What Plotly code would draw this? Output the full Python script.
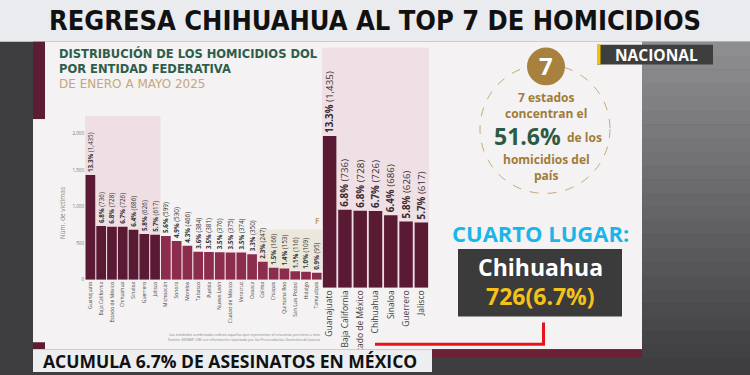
import plotly.graph_objects as go

W, H = 750, 375

# ---------------- data ----------------
states = ["Guanajuato", "Baja California", "Estado de México", "Chihuahua", "Sinaloa",
          "Guerrero", "Jalisco", "Michoacán", "Sonora", "Morelos", "Tabasco", "Puebla",
          "Nuevo León", "Ciudad de México", "Veracruz", "Oaxaca", "Colima", "Chiapas",
          "Quintana Roo", "San Luis Potosí", "Hidalgo", "Tamaulipas"]
victims = [1435, 736, 728, 726, 686, 626, 617, 599, 530, 466, 384, 381, 376, 375, 374,
           350, 247, 166, 153, 116, 109, 95]
pcts = [13.3, 6.8, 6.8, 6.7, 6.4, 5.8, 5.7, 5.6, 4.9, 4.3, 3.6, 3.5, 3.5, 3.5, 3.5,
        3.3, 2.3, 1.5, 1.4, 1.1, 1.0, 0.9]
top_n = 7
yticks = [0, 500, 1000, 1500, 2000]
ytick_labels = ["0", "500", "1,000", "1,500", "2,000"]

top_states = states[:top_n]
top_victims = victims[:top_n]
top_pcts = pcts[:top_n]

DARK = "#5a1a34"
LIGHT = "#8d2d4e"
FONT = "Open Sans"


def X(p):
    return p / W


def Y(p):
    return 1 - p / H


def rect(x0, y0, x1, y1, color, layer="below"):
    return dict(type="rect", xref="paper", yref="paper", x0=X(x0), x1=X(x1),
                y0=Y(y1), y1=Y(y0), fillcolor=color, line_width=0, layer=layer)


def txt(x, y, s, size, color, family=FONT, xanchor="center", yanchor="middle", angle=0, align="center"):
    return dict(x=X(x), y=Y(y), xref="paper", yref="paper", text=s, showarrow=False,
                xanchor=xanchor, yanchor=yanchor, textangle=angle, align=align,
                font=dict(size=size, color=color, family=family))


def label(p, v):
    return f"<b>{p:.1f}%</b> ({v:,})"


fig = go.Figure()

# main chart
fig.add_trace(go.Bar(
    x=states, y=victims, xaxis="x", yaxis="y",
    marker=dict(color=[DARK if i < top_n else LIGHT for i in range(len(states))], line_width=0),
    width=0.9,
    text=[label(p, v) for p, v in zip(pcts, victims)],
    textposition="outside", textangle=-90, constraintext="none", cliponaxis=False,
    textfont=dict(size=6.3, color="#333333", family=FONT),
    hoverinfo="skip", showlegend=False))

# zoomed chart
fig.add_trace(go.Bar(
    x=top_states, y=top_victims, xaxis="x2", yaxis="y2",
    marker=dict(color=DARK, line_width=0), width=0.88,
    text=[label(p, v) for p, v in zip(top_pcts, top_victims)],
    textposition="outside", textangle=-90, constraintext="none", cliponaxis=False,
    textfont=dict(size=9.8, color="#3a2a2e", family=FONT),
    hoverinfo="skip", showlegend=False))

shapes = []
# title band
shapes.append(rect(0, 0, 750, 42, "#e9ebee"))
# right map-like gradient background
top_c = (142, 142, 144)
bot_c = (62, 62, 65)
nb = 24
for i in range(nb):
    t = i / (nb - 1)
    c = tuple(int(top_c[k] + (bot_c[k] - top_c[k]) * t) for k in range(3))
    y0 = 42 + (375 - 42) * i / nb
    y1 = 42 + (375 - 42) * (i + 1) / nb + 0.5
    shapes.append(rect(642, y0, 750, y1, "rgb(%d,%d,%d)" % c))
# white panel
shapes.append(rect(33, 42, 642, 352, "#f4f2f2"))
shapes.append(rect(33, 42, 45, 120, "#5c1c33"))
shapes.append(rect(33, 345, 45, 352, "#5c1c33"))
# pink highlight main
shapes.append(dict(type="rect", xref="x", yref="y", x0=-0.5, x1=top_n - 0.5, y0=0, y1=2250,
                   fillcolor="#efdfe4", line_width=0, layer="below"))
# beige glare area
shapes.append(dict(type="rect", xref="x", yref="y", x0=15.4, x1=21.55, y0=130, y1=690,
                   fillcolor="#ebe7dc", line_width=0, layer="below"))
# pink highlight zoom chart
shapes.append(dict(type="rect", xref="x2", yref="y2", x0=-0.5, x1=top_n - 0.5, y0=0, y1=2270,
                   fillcolor="#eee0e5", line_width=0, layer="below"))
# dashed circle + gold disk
shapes.append(dict(type="circle", xref="paper", yref="paper", x0=X(480), x1=X(610),
                   y0=Y(195), y1=Y(65), line=dict(color="#c9a978", width=1, dash="dash"),
                   fillcolor="rgba(0,0,0,0)", layer="below"))
shapes.append(dict(type="circle", xref="paper", yref="paper", x0=X(527), x1=X(565),
                   y0=Y(86), y1=Y(48), line_width=0, fillcolor="#a8813f", layer="below"))
# NACIONAL tag
shapes.append(rect(597, 45, 713, 65, "#3e3e3e"))
shapes.append(rect(597, 45, 600.5, 65, "#f2c200"))
# Chihuahua box
shapes.append(rect(458, 251, 622, 319, "#3b3b3b"))
# red connector
shapes.append(dict(type="path", xref="paper", yref="paper", layer="above",
                   path="M %f,%f L %f,%f L %f,%f" % (X(375), Y(347), X(543.5), Y(347), X(543.5), Y(325)),
                   line=dict(color="#e8141c", width=3)))
# bottom banner
shapes.append(rect(33, 352, 432, 375, "#eceef0", layer="above"))
shapes.append(rect(432, 352, 642, 360, "#6b2035", layer="above"))

ann = []
ann.append(txt(375, 21, "<b>REGRESA CHIHUAHUA AL TOP 7 DE HOMICIDIOS</b>", 27, "#111111",
               family="Liberation Sans Narrow, DejaVu Sans Condensed, sans-serif"))
ann.append(txt(57, 69,
               "<b><span style='font-size:11.5px'>DISTRIBUCIÓN DE LOS HOMICIDIOS DOL</span></b><br>"
               "<b><span style='font-size:11.5px'>POR ENTIDAD FEDERATIVA</span></b><br>"
               "<span style='font-size:12px;color:#c4a77d'>DE ENERO A MAYO 2025</span>",
               11.5, "#2e5d4b", family="DejaVu Sans", xanchor="left", align="left"))
ann.append(txt(62, 215, "Núm. de víctimas", 6.5, "#8a8a8a", angle=-90))
ann.append(txt(322, 339.5,
               "Las entidades sombreadas indican aquellas que representan el cincuenta porciento o más<br>"
               "Fuente: SESNSP-CNI con información reportada por las Procuradurías Generales de Justicia",
               3.6, "#888888", xanchor="right", align="right"))
ann.append(txt(317, 222, "<b>F</b>", 8, "#c8a060"))
# circle content
ann.append(txt(546, 66, "<b>7</b>", 24, "#ffffff"))
GOLD = "#a07c3a"
ann.append(txt(546, 98, "<b>7 estados</b>", 12, GOLD))
ann.append(txt(546, 114, "<b>concentran el</b>", 12, GOLD))
ann.append(txt(563, 137, "<b>51.6%</b>", 23, "#2c5a45", xanchor="right"))
ann.append(txt(565, 139, "<b>de los</b>", 12, GOLD, xanchor="left"))
ann.append(txt(546, 161, "<b>homicidios del</b>", 12, GOLD))
ann.append(txt(546, 177, "<b>país</b>", 12, GOLD))
# NACIONAL
ann.append(txt(656, 55, "<b>NACIONAL</b>", 15.5, "#ffffff"))
# Cuarto lugar
ann.append(txt(540, 235, "<b>CUARTO LUGAR:</b>", 22, "#1ab6ea"))
ann.append(txt(540, 269, "<b>Chihuahua</b>", 23, "#ffffff"))
ann.append(txt(540, 298, "<b>726(6.7%)</b>", 23, "#f5c21b"))
# bottom banner text
ann.append(txt(41, 364, "<b>ACUMULA 6.7% DE ASESINATOS EN MÉXICO</b>", 17.5, "#111111", xanchor="left"))

fig.update_layout(
    width=W, height=H, margin=dict(l=0, r=0, t=0, b=0),
    paper_bgcolor="#3e3e40", plot_bgcolor="rgba(0,0,0,0)",
    bargap=0.1, shapes=shapes, annotations=ann,
    xaxis=dict(domain=[X(85), X(322.7)], anchor="y", type="category", tickangle=-90,
               tickfont=dict(size=5, color="#444444", family=FONT), showline=False,
               showgrid=False, ticks="", fixedrange=True),
    yaxis=dict(domain=[Y(282), Y(116.6)], anchor="x", range=[0, 2250], tickvals=yticks,
               ticktext=ytick_labels, tickfont=dict(size=4.5, color="#777777", family=FONT),
               showgrid=False, zeroline=False, showline=False, ticks=""),
    xaxis2=dict(domain=[X(322), X(429)], anchor="y2", type="category", tickangle=-90,
                tickfont=dict(size=8.5, color="#3a3a3a", family=FONT), showline=False,
                showgrid=False, ticks=""),
    yaxis2=dict(domain=[Y(290), Y(48)], anchor="x2", range=[0, 2270], showticklabels=False,
                showgrid=False, zeroline=False, showline=False, ticks=""),
)

fig.write_html("out.html", config={"displayModeBar": False},
               post_script="document.body.style.margin='0';document.body.style.padding='0';"
                           "document.documentElement.style.overflow='hidden';")
